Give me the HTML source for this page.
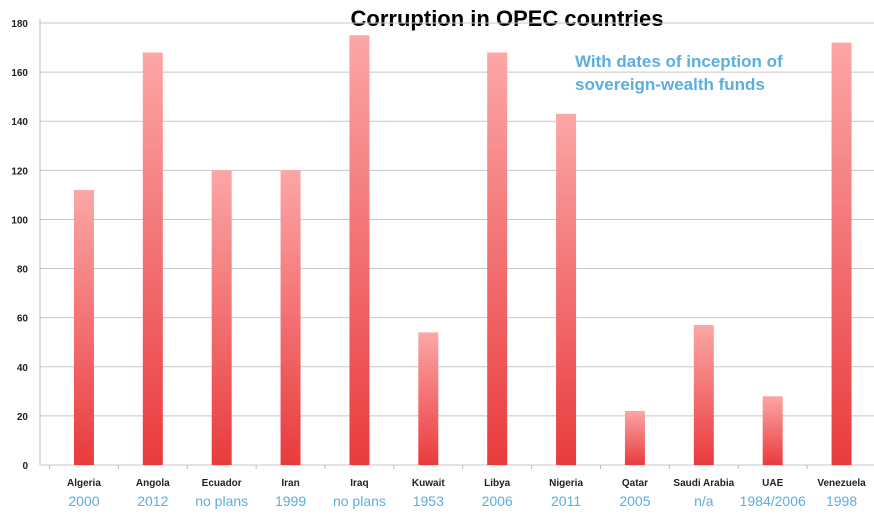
<!DOCTYPE html>
<html><head><meta charset="utf-8"><style>
body{margin:0;background:#fff;width:874px;height:517px;overflow:hidden;font-family:"Liberation Sans",sans-serif}
</style></head><body>
<svg id="chart" width="874" height="517" xmlns="http://www.w3.org/2000/svg">
<defs><linearGradient id="g" x1="0" y1="0" x2="0" y2="1"><stop offset="0" stop-color="#fca6a6"/><stop offset="1" stop-color="#e93b3d"/></linearGradient></defs>
<text x="507" y="26" text-anchor="middle" font-size="22" font-weight="bold" fill="#000">Corruption in OPEC countries</text>
<text x="575" y="67" font-size="17" font-weight="bold" fill="#5aaee0">With dates of inception of</text>
<text x="575" y="90" font-size="17" font-weight="bold" fill="#5aaee0">sovereign-wealth funds</text>
<g id="grid"></g><g id="bars"></g><g id="labels"></g>
</svg>
<script>
const categories=["Algeria","Angola","Ecuador","Iran","Iraq","Kuwait","Libya","Nigeria","Qatar","Saudi Arabia","UAE","Venezuela"];
const values=[112,168,120,120,175,54,168,143,22,57,28,172];
const fundDates=["2000","2012","no plans","1999","no plans","1953","2006","2011","2005","n/a","1984/2006","1998"];
const yTicks=[0,20,40,60,80,100,120,140,160,180];
const NS="http://www.w3.org/2000/svg";
const axisX=40,x0=49.5,x1=876,y0=465,yTop=23,yMax=180;
const bw=(x1-x0)/categories.length;
const y=v=>y0-(v/yMax)*(y0-yTop);
const xc=i=>x0+bw*(i+0.5);
function mk(t,a,p){const e=document.createElementNS(NS,t);for(const k in a)e.setAttribute(k,a[k]);p.appendChild(e);return e;}
const grid=document.getElementById('grid'),bars=document.getElementById('bars'),labels=document.getElementById('labels');
yTicks.forEach(t=>{
 const l=mk('line',{x1:axisX,x2:874,y1:y(t),y2:y(t),stroke:'#c8c8c8','stroke-width':1},grid);
 
 
 const tx=mk('text',{x:axisX-12,y:y(t)+4,'text-anchor':'end','font-size':10,'font-weight':'bold',fill:'#222'},grid);
 tx.textContent=t;
 
 
});
const ax=mk('line',{x1:axisX,x2:axisX,y1:yTop-4,y2:y0,stroke:'#bbb'},grid);


for(let i=0;i<=categories.length;i++){const tk=mk('line',{x1:x0+bw*i,x2:x0+bw*i,y1:y0,y2:y0+4,stroke:'#bbb'},grid);
 
 }
categories.forEach((c,i)=>{
 const r=mk('rect',{x:xc(i)-10,y:y(values[i]),width:20,height:y0-y(values[i]),fill:'url(#g)'},bars);
 
 
 const t=mk('text',{x:xc(i),y:486,'text-anchor':'middle','font-size':10,'font-weight':'bold',fill:'#222'},labels);
 t.textContent=c;
 
 
 const d=mk('text',{x:xc(i),y:506,'text-anchor':'middle','font-size':14,fill:'#5aaee0'},labels);
 d.textContent=fundDates[i];
 
 
});
</script>
</body></html>
